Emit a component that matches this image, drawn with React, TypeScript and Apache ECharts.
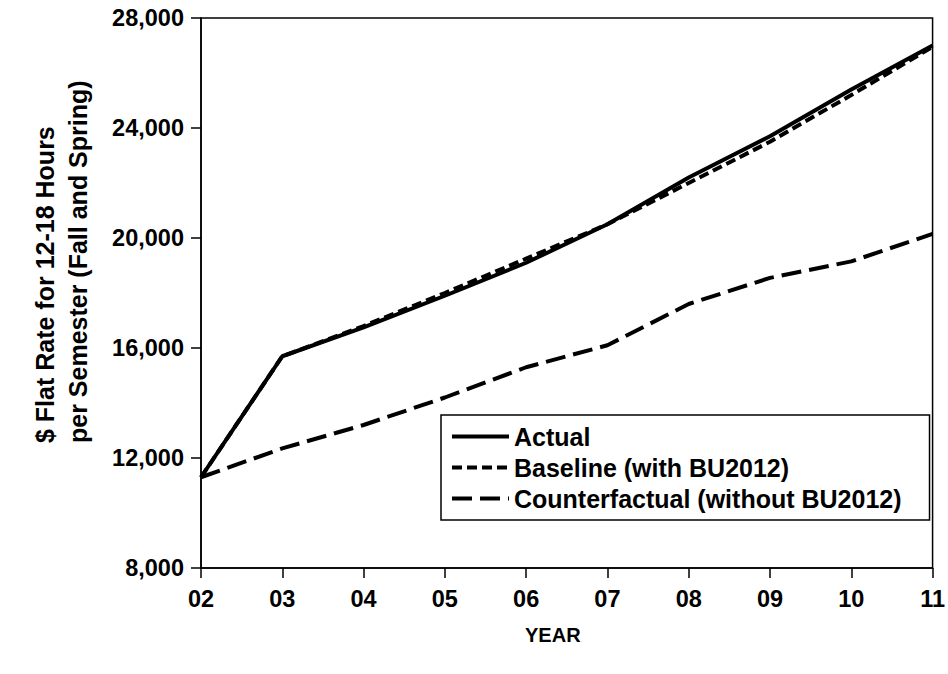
import React, { useEffect, useRef } from "react";
import * as echarts from "echarts";

const years = ["02", "03", "04", "05", "06", "07", "08", "09", "10", "11"];
const actual = [11300, 15700, 16750, 17900, 19100, 20500, 22200, 23700, 25400, 27000];
const baseline = [11300, 15700, 16800, 18000, 19250, 20500, 22000, 23500, 25200, 26950];
const counterfactual = [11300, 12350, 13200, 14200, 15300, 16100, 17600, 18550, 19150, 20150];
const yTicks = { min: 8000, max: 28000, interval: 4000 };
const seriesNames = ["Actual", "Baseline (with BU2012)", "Counterfactual (without BU2012)"];
const yTitleLines = ["$ Flat Rate for 12-18 Hours", "per Semester (Fall and Spring)"];
const xTitle = "YEAR";

const FONT = "'Liberation Sans', Arial, sans-serif";

export default function App() {
  const ref = useRef<HTMLDivElement>(null);
  useEffect(() => {
    if (!ref.current) return;
    const chart = echarts.init(ref.current, undefined, { renderer: "svg" });
    chart.setOption({
      animation: false,
      backgroundColor: "#fff",
      textStyle: { fontFamily: FONT },
      grid: {
        left: 201,
        top: 18,
        right: 13,
        bottom: 106,
        show: true,
        borderColor: "#000",
        borderWidth: 1.5,
      },
      legend: {
        orient: "vertical",
        left: 441,
        top: 415,
        itemWidth: 57,
        itemHeight: 14,
        itemGap: 6,
        padding: [9, 28, 9, 9],
        borderColor: "#000",
        borderWidth: 1.5,
        backgroundColor: "#fff",
        itemStyle: { opacity: 0 },
        lineStyle: { width: 4 },
        textStyle: { fontFamily: FONT, fontWeight: "bold", fontSize: 25, color: "#000" },
        data: seriesNames,
      },
      xAxis: {
        type: "category",
        data: years,
        boundaryGap: false,
        name: xTitle,
        nameLocation: "middle",
        nameGap: 57,
        nameTextStyle: {
          fontFamily: FONT,
          fontWeight: "bold",
          fontSize: 20,
          color: "#000",
          padding: [0, 28, 0, 0],
        },
        axisLine: { lineStyle: { color: "#000", width: 1.5 } },
        axisTick: { length: 10, lineStyle: { color: "#000", width: 1.5 } },
        axisLabel: { fontFamily: FONT, fontWeight: "bold", fontSize: 23.5, color: "#000", margin: 19 },
        splitLine: { show: false },
      },
      yAxis: {
        type: "value",
        min: yTicks.min,
        max: yTicks.max,
        interval: yTicks.interval,
        axisLine: { show: true, lineStyle: { color: "#000", width: 1.5 } },
        axisTick: { show: true, length: 10, lineStyle: { color: "#000", width: 1.5 } },
        axisLabel: {
          fontFamily: FONT,
          fontWeight: "bold",
          fontSize: 23.5,
          color: "#000",
          margin: 17,
          formatter: (v: number) => v.toLocaleString("en-US"),
        },
        splitLine: { show: false },
      },
      graphic: [
        {
          type: "text",
          x: 45,
          y: 443,
          rotation: Math.PI / 2,
          style: {
            text: yTitleLines[0],
            font: `bold 25px ${FONT}`,
            fill: "#000",
            align: "left",
            verticalAlign: "middle",
          },
        },
        {
          type: "text",
          x: 78,
          y: 443,
          rotation: Math.PI / 2,
          style: {
            text: yTitleLines[1],
            font: `bold 25px ${FONT}`,
            fill: "#000",
            align: "left",
            verticalAlign: "middle",
          },
        },
      ],
      series: [
        {
          name: seriesNames[2],
          type: "line",
          data: counterfactual,
          symbol: "none",
          lineStyle: { color: "#000", width: 4, type: [20, 8], cap: "butt" },
          itemStyle: { color: "#000" },
        },
        {
          name: seriesNames[1],
          type: "line",
          data: baseline,
          symbol: "none",
          lineStyle: { color: "#000", width: 4, type: [10, 5], cap: "butt" },
          itemStyle: { color: "#000" },
        },
        {
          name: seriesNames[0],
          type: "line",
          data: actual,
          symbol: "none",
          lineStyle: { color: "#000", width: 4, type: "solid" },
          itemStyle: { color: "#000" },
        },
      ],
    });
    return () => chart.dispose();
  }, []);
  return (
    <div
      ref={ref}
      style={{ position: "fixed", left: 0, top: 0, width: 948, height: 674 }}
    />
  );
}
